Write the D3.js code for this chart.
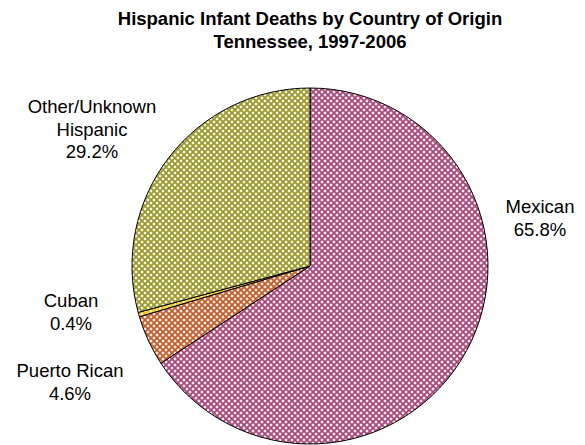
<!DOCTYPE html>
<html>
<head>
<meta charset="utf-8">
<script src="https://cdn.jsdelivr.net/npm/d3@7"></script>
<style>
  body { margin: 0; background: #fff; }
  svg { display: block; font-family: Arial, "Liberation Sans", sans-serif; }
</style>
</head>
<body>
<svg id="chart" width="585" height="445"></svg>
<script>
// Hispanic infant deaths by country of origin, Tennessee 1997-2006 (percent)
const categories = ["Mexican", "Puerto Rican", "Cuban", "Other/Unknown Hispanic"];
const shares = [65.8, 4.6, 0.4, 29.2];
const sliceColors = ["#a8487a", "#c25e2c", "#f2c400", "#9a9a2c"];
const labelLines = [["Mexican", "65.8%"], ["Puerto Rican", "4.6%"], ["Cuban", "0.4%"], ["Other/Unknown", "Hispanic", "29.2%"]];
const labelAnchors = [[540, 207], [70, 371], [71, 301], [92, 107]];
const titleLines = ["Hispanic Infant Deaths by Country of Origin", "Tennessee, 1997-2006"];

const svg = d3.select("#chart");
const cx = 310, cy = 266, r = 178;

// lattice fill patterns: coloured ground broken by white crosses
const defs = svg.append("defs");
sliceColors.forEach((c, i) => {
  const p = defs.append("pattern")
    .attr("id", "pat" + i)
    .attr("patternUnits", "userSpaceOnUse")
    .attr("width", 6).attr("height", 6);
  p.append("rect").attr("width", 6).attr("height", 6).attr("fill", c);
  const crosses = [[0, 0], [3, 3], [6, 0], [0, 6], [6, 6]];
  crosses.forEach(([x, y]) => {
    p.append("rect").attr("x", x - 1.5).attr("y", y - 0.5).attr("width", 3).attr("height", 1).attr("fill", "#fff");
    p.append("rect").attr("x", x - 0.5).attr("y", y - 1.5).attr("width", 1).attr("height", 3).attr("fill", "#fff");
  });
  // softer halo round each cross
  crosses.forEach(([x, y]) => {
    p.append("rect").attr("x", x - 1).attr("y", y - 1).attr("width", 2).attr("height", 2)
      .attr("fill", "#fff").attr("opacity", 0.5);
  });
});

const data = categories.map((name, i) => ({ name, value: shares[i], i }));
const pie = d3.pie().sort(null).value(d => d.value);
const arc = d3.arc().innerRadius(0).outerRadius(r);

const g = svg.append("g").attr("transform", `translate(${cx},${cy})`);
g.selectAll("path")
  .data(pie(data))
  .join("path")
  .attr("d", arc)
  .attr("fill", d => `url(#pat${d.data.i})`)
  .attr("stroke", "#000")
  .attr("stroke-width", 1);

// slice labels
data.forEach((d, i) => {
  const [x, y] = labelAnchors[i];
  const t = svg.append("text")
    .attr("x", x).attr("y", y)
    .attr("text-anchor", "middle")
    .attr("font-size", 18.5)
    .attr("fill", "#000");
  labelLines[i].forEach((line, k) => {
    t.append("tspan").attr("x", x).attr("dy", k === 0 ? "0.35em" : 22.3).text(line);
  });
});

// title
const title = svg.append("text")
  .attr("x", 310).attr("y", 19)
  .attr("text-anchor", "middle")
  .attr("font-size", 18.5)
  .attr("font-weight", "bold");
titleLines.forEach((line, k) => {
  title.append("tspan").attr("x", 310).attr("dy", k === 0 ? "0.35em" : 23).text(line);
});
</script>
</body>
</html>
